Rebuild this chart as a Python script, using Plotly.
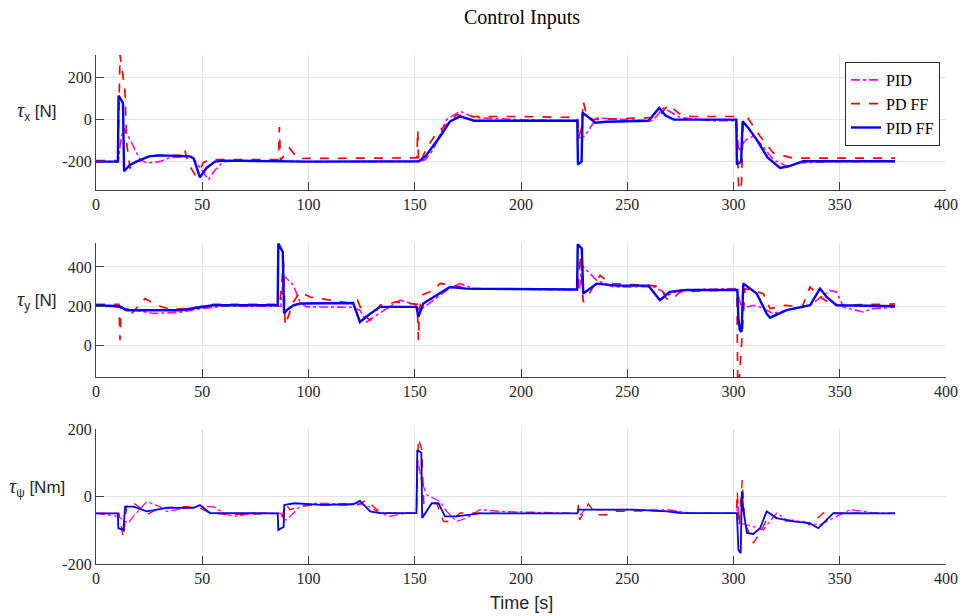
import plotly.graph_objects as go

# ---- tau_x [N] ----
tx_pid_t = [0, 10.5, 11.5, 12.9, 16, 20.7, 23.9, 30, 35, 45, 48, 52.9, 56, 60, 70, 100, 150, 153, 155, 158.7,
            165, 171.3, 178, 200, 226.5, 227.3, 230, 232.5, 235.6, 250, 262, 267, 270, 275, 290, 301,
            302.5, 304, 306, 309.3, 312.5, 318.7, 325, 331.3, 345, 376]
tx_pid_v = [-200, -200, -110, -40, -95, -190, -206, -200, -180, -175, -215, -286, -240, -200, -195, -200, -200,
            -198, -190, -143, 0, 40, 10, 0, -5, -87, -79, -38, 8, 0, -5, 56, 40, 10, -5, -5,
            -150, -120, -95, -79, -111, -190, -222, -206, -200, -200]

tx_pdff_t = [0, 10.3, 11.3, 13.6, 14.4, 16, 20, 25, 41.5, 41.9, 42.3, 44.2, 46.6, 48.9, 50.5, 53.6, 85.8,
             86.3, 86.8, 91, 95, 120, 151, 151.4, 151.8, 153, 155.6, 160.3, 165, 169.7, 175, 200, 226.5,
             227.3, 228.5, 229.3, 231, 234, 262, 266, 269.3, 275, 280, 301.3, 302.3, 303, 303.8, 304.5,
             306.2, 312.5, 318.7, 328, 376]
tx_pdff_v = [-195, -195, 309, 143, -110, -230, -200, -170, -170, -143, -170, -222, -262, -238, -205, -190,
             -190, -35, -195, -135, -185, -185, -182, -50, -206, -195, -135, -63, -24, 24, 15, 15, 10,
             -79, -40, 87, 16, 0, 10, 30, 71, 25, 15, 15, -290, -380, -300, -20,
             16, -79, -159, -183, -183]

tx_pidff_t = [0, 10.3, 10.6, 12.7, 13.2, 16, 20, 25, 30, 44, 46, 48.9, 52, 56, 60, 100, 152, 155, 162,
              166.6, 171.3, 178, 226.5, 226.8, 228.5, 229, 232, 235, 240, 260, 265, 268, 272, 301.3,
              301.6, 303.6, 304.3, 307, 310.9, 316, 321.9, 326, 332.8, 376]
tx_pidff_v = [-200, -200, 114, 80, -246, -215, -195, -175, -170, -175, -185, -275, -230, -200, -195, -200,
              -198, -175, -79, -8, 16, -5, -5, -214, -200, 33, 10, -15, -10, -5, 56, 20, 0, 0,
              -214, -200, -8, -40, -95, -180, -230, -222, -198, -198]

# ---- tau_y [N] ----
ty_pid_t = [0, 11, 18.8, 27, 40, 49, 60, 87, 88.2, 92.9, 96, 99, 120, 124.2, 127.4, 131.9, 143, 150, 152.5,
            158.7, 165, 171.3, 177.6, 227.5, 228.6, 235.6, 243.4, 262, 266, 269, 275, 301.5, 303.8, 309.3,
            312.5, 318.7, 325, 336, 345.4, 348.5, 351.7, 361, 365.7, 376]
ty_pid_v = [205, 195, 180, 163, 170, 188, 200, 200, 358, 307, 222, 197, 195, 180, 120, 154, 231, 210, 180,
            231, 281, 316, 290, 283, 409, 332, 298, 300, 280, 255, 283, 290, 188, 205,
            196, 163, 180, 205, 281, 273, 196, 171, 188, 195]

ty_pdff_t = [0, 10.8, 11.3, 11.8, 16, 19.2, 23.1, 28.6, 35, 45, 55, 86.5, 88.2, 89, 92.9, 96, 100.8, 120,
             123, 126.1, 129, 133.6, 141.4, 151.2, 151.7, 152.2, 153.3, 158.7, 161.9, 168.1, 174.4, 226.8,
             227.8, 229.3, 231.7, 237.2, 241.9, 262, 265.4, 268.4, 270.8, 274.8, 301.6, 302.0, 302.6,
             305.4, 314, 317.2, 324.5, 332.3, 336, 340.7, 347, 376]
ty_pdff_v = [210, 210, 27, 200, 154, 190, 239, 205, 185, 190, 210, 210, 426, 103, 222, 273, 247, 215,
             231, 154, 129, 205, 222, 210, 27, 180, 256, 281, 316, 307, 290, 285,
             460, 222, 256, 358, 316, 305, 298, 239, 231, 273, 285, -200, -200,
             290, 265, 188, 205, 196, 298, 247, 205, 212]

ty_pidff_t = [0, 11, 14.4, 40, 55, 85.5, 85.8, 87.9, 88.5, 89.7, 92.9, 96, 121, 124.2, 128.1, 133.6, 150.8,
              151.7, 154, 160.3, 166.6, 174.4, 226.4, 226.7, 228.6, 229.3, 235.6, 245, 260, 262.3, 265.4,
              270, 277.8, 301.8, 302.3, 303, 303.8, 304.6, 310.9, 315.6, 317.2, 325, 336, 340.7, 343.8,
              348.5, 376]
ty_pidff_v = [205, 200, 180, 180, 205, 205, 519, 476, 163, 180, 205, 214, 217, 120, 154, 197, 197,
              146, 214, 256, 298, 290, 285, 515, 494, 265, 315, 305, 305, 273, 231,
              273, 283, 283, 137, 78, 70, 316, 265, 163, 142, 180, 205, 290, 247,
              205, 200]

# ---- tau_psi [Nm] ----
tp_pid_t = [0, 10.5, 12.5, 15.2, 17.6, 23.9, 30, 33.3, 42.5, 48.9, 55.1, 61.5, 66.2, 74, 87, 88.2, 89.7, 96,
            102.3, 123, 127, 133.6, 138.4, 146, 150.7, 151.2, 153.3, 155.6, 161.9, 165, 169.7, 174.4, 180.7,
            190, 226.5, 228, 230, 270, 280, 301.5, 302, 303, 306.2, 309.3, 314, 320.3, 325, 331.3, 340.7,
            345.4, 354.8, 361, 365.7, 376]
tp_pid_v = [-50, -59, -69, -79, -59, -15, -30, -44, -34, -30, -30, -54, -59, -49, -50, -69, -69, -30,
            -20, -22, -25, -49, -59, -49, -50, 114, 44, 5, -15, -44, -74, -64, -39,
            -44, -50, -54, -39, -40, -50, -50, -10, -79, -84, -89, -99, -49, -69, -74, -84,
            -69, -39, -44, -49, -50]

tp_pdff_t = [0, 10.8, 11.3, 12.9, 14.4, 16.8, 20.7, 23.9, 30, 42.5, 48.9, 53.6, 64.5, 86.5, 87.4, 89, 91.3,
             96, 102.3, 123, 127.4, 132.1, 136.8, 150.8, 151.7, 153.3, 154.5, 157.2, 160.3, 163.5, 166.6,
             171.3, 226.5, 227, 227.6, 231.7, 235.6, 240.3, 243.4, 270, 280, 301.3, 301.8, 302.6, 304.1,
             305.4, 309.3, 312.5, 317.2, 321.9, 331.3, 335.8, 342.3, 376]
tp_pdff_v = [-50, -50, -69, -123, -30, -15, -34, -54, -34, -30, -34, -49, -54, -50, -69, -20, -39,
             -30, -25, -25, -10, -39, -49, -50, 173, 140, -55, -25, -20, -74, -74,
             -49, -50, -25, -69, -22, -54, -54, -44, -42, -50, -50, 15, -89, 49,
             -79, -138, -108, -49, -74, -69, -84, -49, -50]

tp_pidff_t = [0, 10.3, 10.5, 12.9, 13.7, 17.6, 23.9, 33.3, 45.8, 48.9, 53.6, 85.5, 85.8, 88.3, 88.6, 93.3,
              105.9, 121, 124.2, 129, 133.6, 150.8, 151.2, 153.1, 153.5, 158, 161.2, 164.2, 169.7, 180.6,
              226.6, 227, 252.9, 268.6, 275, 301.6, 302.3, 303.4, 303.9, 304.6, 306.3, 309.3, 312.5, 315.6,
              320.3, 328, 335.8, 339.9, 347, 376]
tp_pidff_v = [-50, -50, -94, -99, -30, -30, -44, -34, -34, -25, -49, -50, -99, -90, -25, -20,
              -25, -23, -13, -44, -49, -49, 138, 130, -64, -20, -20, -59, -59, -50,
              -50, -39, -39, -44, -49, -49, -158, -168, 15, -39, -108, -111, -94, -44,
              -64, -74, -79, -94, -49, -50]

series_names = ["PID", "PD FF", "PID FF"]
series_colors = ["#ff00ff", "#ff0000", "#0000ff"]
series_dash = ["dashdot", "dash", "solid"]
# line widths per panel (PID, PD FF, PID FF)
panel_widths = [[1.6, 1.7, 2.4], [1.6, 1.7, 2.4], [1.3, 1.4, 1.8]]

panels = [
    ([tx_pid_t, tx_pdff_t, tx_pidff_t], [tx_pid_v, tx_pdff_v, tx_pidff_v]),
    ([ty_pid_t, ty_pdff_t, ty_pidff_t], [ty_pid_v, ty_pdff_v, ty_pidff_v]),
    ([tp_pid_t, tp_pdff_t, tp_pidff_t], [tp_pid_v, tp_pdff_v, tp_pidff_v]),
]

y_ranges = [[-335, 308], [-160, 522], [-200, 200]]
y_ticks = [[-200, 0, 200], [0, 200, 400], [-200, 0, 200]]
x_ticks = list(range(0, 401, 50))

W, H = 967, 616
# pixel rows of each axes box (top, bottom)
boxes = [(55, 190), (243, 377), (429, 564)]

fig = go.Figure()
for i, (ts, vs) in enumerate(panels):
    ax = "" if i == 0 else str(i + 1)
    for k in range(3):
        fig.add_trace(go.Scatter(
            x=ts[k], y=vs[k], mode="lines", name=series_names[k],
            line=dict(color=series_colors[k], dash=series_dash[k], width=panel_widths[i][k]),
            xaxis="x" + ax, yaxis="y" + ax, showlegend=(i == 0),
        ))

tick_font = dict(family="Liberation Serif", size=16, color="#262626")
layout = dict(
    template="none",
    width=W, height=H, paper_bgcolor="white", plot_bgcolor="white",
    margin=dict(l=96, r=21, t=0, b=0, pad=0, autoexpand=False),
    showlegend=True,
    legend=dict(x=(940 - 96) / 850, xanchor="right", y=(H - 62) / H, yanchor="top",
                bgcolor="white", bordercolor="#262626", borderwidth=1,
                font=dict(family="Liberation Serif", size=16, color="#000000"),
                itemwidth=30, tracegroupgap=0),
)
for i in range(3):
    ax = "" if i == 0 else str(i + 1)
    top, bot = boxes[i]
    layout["xaxis" + ax] = dict(
        range=[0, 400], tickvals=x_ticks, ticktext=[str(v) for v in x_ticks],
        showgrid=True, gridcolor="#e3e3e3", gridwidth=1, zeroline=False,
        showline=True, linecolor="#404040", linewidth=1.2, mirror=False, automargin=False,
        ticks="inside", ticklen=8, tickcolor="#404040", tickfont=tick_font,
        anchor="y" + ax, domain=[0, 1],
    )
    layout["yaxis" + ax] = dict(
        range=y_ranges[i], tickvals=y_ticks[i],
        ticktext=[str(v) for v in y_ticks[i]],
        showgrid=True, gridcolor="#e3e3e3", gridwidth=1, zeroline=False,
        showline=True, linecolor="#404040", linewidth=1.2, mirror=False, automargin=False,
        ticks="inside", ticklen=8, tickcolor="#404040", tickfont=tick_font,
        anchor="x" + ax, domain=[(H - bot) / H, (H - top) / H],
    )
fig.update_layout(**layout)

label_font = dict(family="Liberation Sans", size=17, color="#262626")
tau = "<span style='font-family:Liberation Serif;font-size:20px'><i>τ</i></span>"
labels = [
    (tau + "<sub>x</sub> [N]", 15, 112),
    (tau + "<sub>y</sub> [N]", 15, 300),
    (tau + "<sub>ψ</sub> [Nm]", 7, 487),
]
for text, px, py in labels:
    fig.add_annotation(text=text, x=(px - 96) / 850, y=(H - py) / H, xref="paper", yref="paper",
                       xanchor="left", yanchor="middle", showarrow=False, font=label_font)

fig.add_annotation(text="Time [s]", x=0.5, y=(H - 603) / H, xref="paper", yref="paper",
                   xanchor="center", yanchor="middle", showarrow=False,
                   font=dict(family="Liberation Sans", size=18, color="#262626"))
fig.add_annotation(text="Control Inputs", x=(522 - 96) / 850, y=(H - 17) / H, xref="paper", yref="paper",
                   xanchor="center", yanchor="middle", showarrow=False,
                   font=dict(family="Liberation Serif", size=20, color="#000000"))

fig.write_html("out.html")
